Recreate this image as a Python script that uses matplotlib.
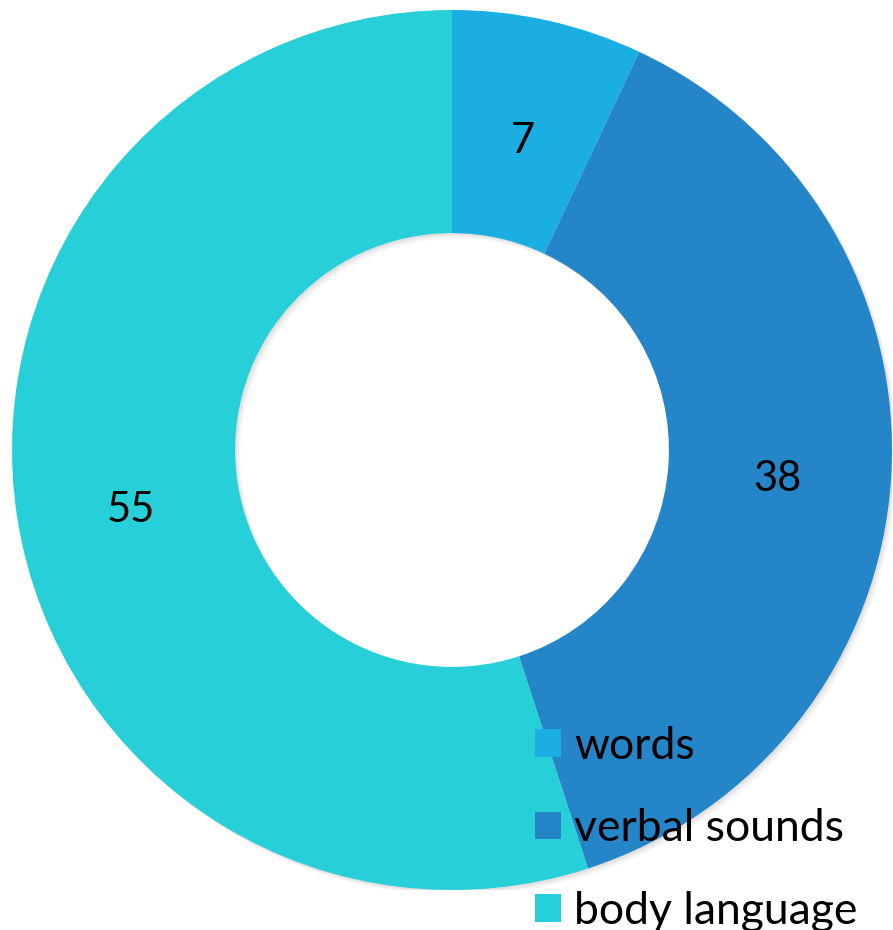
import matplotlib
matplotlib.use('Agg')
import matplotlib.pyplot as plt
import matplotlib.patches as mpatches
import numpy as np

labels = ["words", "verbal sounds", "body language"]
values = [7, 38, 55]
slice_colors = ["#1AAEE3", "#2585C9", "#27CFD9"]

plt.rcParams['font.family'] = ['Lato', 'DejaVu Sans']

fig = plt.figure(figsize=(8.93, 9.30), dpi=100)
ax = fig.add_axes([12/893, 40/930, 880/893, 880/930])

# soft shadow behind ring
for i, a in enumerate([0.05, 0.04, 0.03]):
    off = 0.004 * (i + 1)
    sh = mpatches.Wedge((off, -off), 1.0, 0, 360, width=1.0 - 0.493,
                        facecolor='black', alpha=a, edgecolor='none')
    ax.add_patch(sh)

wedges, _ = ax.pie(values, colors=slice_colors, startangle=90, counterclock=False,
                   radius=1.0, wedgeprops=dict(width=1.0 - 0.493, edgecolor='none'))

ang = 90.0
for v, w in zip(values, wedges):
    mid = ang - v * 3.6 / 2
    ang -= v * 3.6
    r = 0.74
    ax.text(r * np.cos(np.radians(mid)), r * np.sin(np.radians(mid)) - 0.02, str(v),
            ha='center', va='center', fontsize=30, color='black')

ax.set_xlim(-1, 1)
ax.set_ylim(-1, 1)
ax.set_aspect('equal')
ax.axis('off')

handles = [mpatches.Patch(facecolor=c, edgecolor='none') for c in slice_colors]
fig.legend(handles, labels, loc='upper left', bbox_to_anchor=(535/893, 1 - 726/930),
           frameon=False, fontsize=32, handlelength=0.58, handleheight=0.58,
           handletextpad=0.3, labelspacing=0.93, borderpad=0, borderaxespad=0)

fig.savefig("out.png", dpi=100)
